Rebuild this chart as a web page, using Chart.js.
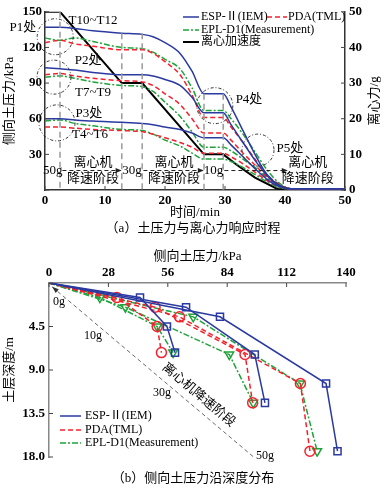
<!DOCTYPE html>
<html>
<head>
<meta charset="utf-8">
<script src="https://cdn.jsdelivr.net/npm/chart.js@4.4.0/dist/chart.umd.min.js"></script>
<style>
body{margin:0;background:#fff;width:386px;height:489px;position:relative;overflow:hidden;font-family:"Liberation Serif","Noto Sans CJK SC",serif;}
canvas{position:absolute;left:0;}
#c1{top:0;}
#c2{top:245px;}
.cap{position:absolute;left:0;width:386px;text-align:center;font-size:13px;line-height:16px;color:#000;}
</style>
</head>
<body>
<canvas id="c1" width="386" height="222" style="width:386px;height:222px"></canvas>
<div class="cap" style="top:220px">（a）土压力与离心力响应时程</div>
<canvas id="c2" width="386" height="225" style="width:386px;height:225px"></canvas>
<div class="cap" style="top:470px">（b）侧向土压力沿深度分布</div>
<script>
// ---- (a) time history ----
let timeMin = [0, 2.5, 5, 8, 12.8, 16.2, 18, 20, 22.5, 24.5, 26.5, 29.7, 31, 33, 35, 37, 39, 41, 45, 50];
let espT10 = [137, 137, 136, 134, 132, 131, 129, 124, 115, 100, 81, 81, 70, 50, 30, 13, 4, 1, 1, 1];
let espT7 = [103, 102, 101, 99, 97, 97, 96, 93, 88, 78, 65, 65, 55, 40, 25, 12, 4, 1, 1, 1];
let espT4 = [60, 60, 59, 58, 57, 56, 55, 53, 51, 48, 44, 44, 38, 28, 18, 9, 3, 1, 1, 1];
let pdaT10 = [124, 126, 123, 121, 118, 118, 115, 108, 97, 80, 61, 61, 53, 40, 26, 13, 5, 1, 1, 1];
let pdaT7 = [97, 98, 96, 94, 92, 91, 88, 81, 72, 60, 48, 48, 42, 31, 21, 11, 4, 1, 1, 1];
let pdaT4 = [53, 53, 52, 51, 50, 49, 47, 44, 40, 36, 31, 31, 28, 22, 15, 8, 3, 1, 1, 1];
let eplT10 = [128, 126, 128, 125, 120, 119, 116, 110, 102, 86, 67, 67, 60, 47, 32, 17, 6, 1, 1, 1];
let eplT7 = [95, 96, 94, 91, 88, 87, 83, 74, 62, 49, 36, 36, 33, 26, 19, 10, 4, 1, 1, 1];
let eplT4 = [58, 59, 56, 54, 51, 50, 47, 42, 37, 31, 26, 26, 24, 19, 13, 7, 2, 1, 1, 1];
let accTime = [0, 2.5, 12.8, 16.2, 26.5, 29.7, 32, 35, 38.5, 40, 50];
let accG = [50, 50, 30, 30, 10, 10, 7, 3.5, 0.5, 0, 0];

// ---- (b) depth profiles ----
let depth10g = [0, 1.5, 4.5, 7.2];
let depth30g = [0, 2.5, 7.4, 12.4];
let depth50g = [0, 3.5, 10.4, 17.4];
let esp10g = [0, 42.9, 55.6, 59.4];
let esp30g = [0, 64.6, 97, 101.8];
let esp50g = [0, 80.6, 130.6, 136];
let pda10g = [0, 32, 51, 53];
let pda30g = [0, 50, 92.4, 96];
let pda50g = [0, 61.5, 118.5, 123];
let epl10g = [0, 24, 51, 58.5];
let epl30g = [0, 36, 85, 96.3];
let epl50g = [0, 68, 118.3, 126.4];

const BLUE = "#2b3aa0";
const RED = "#f5222d";
const GREEN = "#1fa33a";
const FAMILY = '"Liberation Serif", "Noto Sans CJK SC", serif';
const numFont = { family: FAMILY, size: 13, weight: "bold" };
const cjkFont = { family: FAMILY, size: 13 };

function pts(xs, ys) {
    return xs.map(function (x, i) { return { x: x, y: ys[i] }; });
}

function drawText(ctx, text, x, y, font, align) {
    ctx.font = font;
    ctx.fillStyle = "#000";
    ctx.textAlign = align || "center";
    ctx.textBaseline = "middle";
    ctx.fillText(text, x, y);
}

function sample(ctx, x0, x1, y, color, dash, width) {
    ctx.save();
    ctx.strokeStyle = color;
    ctx.lineWidth = width || 1.5;
    ctx.setLineDash(dash);
    ctx.beginPath();
    ctx.moveTo(x0, y);
    ctx.lineTo(x1, y);
    ctx.stroke();
    ctx.restore();
}

// small ticks pointing into the plot
const ticksIn = {
    id: "ticksIn",
    afterDraw(chart) {
        let ctx = chart.ctx;
        let area = chart.chartArea;
        ctx.save();
        ctx.strokeStyle = "#444";
        ctx.lineWidth = 1;
        Object.values(chart.scales).forEach(function (s) {
            s.ticks.forEach(function (t) {
                let p = s.getPixelForValue(t.value);
                ctx.beginPath();
                if (s.position === "bottom") { ctx.moveTo(p, area.bottom); ctx.lineTo(p, area.bottom - 4); }
                if (s.position === "top") { ctx.moveTo(p, area.top); ctx.lineTo(p, area.top + 4); }
                if (s.position === "left") { ctx.moveTo(area.left, p); ctx.lineTo(area.left + 4, p); }
                if (s.position === "right") { ctx.moveTo(area.right, p); ctx.lineTo(area.right - 4, p); }
                ctx.stroke();
            });
        });
        ctx.restore();
    }
};

let stageLines = [[2.5, 150], [12.8, 132], [16.2, 132], [26.5, 81], [29.7, 81]];
let rings = [[1.7, 129, 18], [1.5, 95, 17], [2, 56.5, 18], [28.3, 71, 18], [35.5, 33.6, 16]];
let notes = [
    ["P1处", -3.7, 137], ["T10~T12", 8, 143], ["P2处", 7.2, 109], ["T7~T9", 8, 82],
    ["P3处", 7.3, 64], ["T4~T6", 7.5, 47], ["P4处", 34, 76], ["P5处", 40.8, 35],
    ["50g", 1.3, 16.4], ["30g", 14.5, 16.4], ["10g", 28.1, 16.4],
    ["离心机", 8, 23], ["降速阶段", 8, 10], ["离心机", 21.5, 23], ["降速阶段", 21.5, 10],
    ["离心机", 43.8, 23], ["降速阶段", 43.8, 10]
];
let arrows = [[2.9, 12.6], [16.4, 26.3], [29.9, 40.3]];

const annoA = {
    id: "annoA",
    afterDatasetsDraw(chart) {
        let ctx = chart.ctx;
        let x = chart.scales.x, y = chart.scales.y;
        ctx.save();
        ctx.strokeStyle = "#9a9a9a";
        ctx.lineWidth = 1.5;
        ctx.setLineDash([6, 4]);
        stageLines.forEach(function (s) {
            ctx.beginPath();
            ctx.moveTo(x.getPixelForValue(s[0]), y.getPixelForValue(s[1]));
            ctx.lineTo(x.getPixelForValue(s[0]), y.getPixelForValue(0));
            ctx.stroke();
        });
        ctx.strokeStyle = "#333";
        ctx.lineWidth = 1;
        ctx.setLineDash([3, 2, 1, 2]);
        rings.forEach(function (r) {
            ctx.beginPath();
            ctx.arc(x.getPixelForValue(r[0]), y.getPixelForValue(r[1]), r[2], 0, Math.PI * 2);
            ctx.stroke();
        });
        ctx.setLineDash([4, 3]);
        ctx.strokeStyle = "#222";
        arrows.forEach(function (a) {
            let yy = y.getPixelForValue(16.4);
            let x0 = x.getPixelForValue(a[0]), x1 = x.getPixelForValue(a[1]);
            ctx.beginPath();
            ctx.moveTo(x0, yy);
            ctx.lineTo(x1, yy);
            ctx.stroke();
            ctx.fillStyle = "#222";
            ctx.beginPath();
            ctx.moveTo(x1 + 1, yy);
            ctx.lineTo(x1 - 5, yy - 2.5);
            ctx.lineTo(x1 - 5, yy + 2.5);
            ctx.closePath();
            ctx.fill();
        });
        ctx.setLineDash([]);
        notes.forEach(function (n) {
            drawText(ctx, n[0], x.getPixelForValue(n[1]), y.getPixelForValue(n[2]), "13px " + FAMILY);
        });

        // legend
        sample(ctx, 183, 199, 17, BLUE, []);
        drawText(ctx, "ESP-Ⅱ(IEM)", 201, 17, "12px " + FAMILY, "left");
        sample(ctx, 267, 287, 17, RED, [5, 3]);
        drawText(ctx, "PDA(TML)", 288, 17, "12px " + FAMILY, "left");
        sample(ctx, 183, 199, 30, GREEN, [6, 2, 2, 2]);
        drawText(ctx, "EPL-D1(Measurement)", 201, 30, "12px " + FAMILY, "left");
        sample(ctx, 183, 199, 42, "#000", [], 2);
        drawText(ctx, "离心加速度", 201, 42, "12px " + FAMILY, "left");

        // right axis title, reading upwards
        ctx.translate(375, (chart.chartArea.top + chart.chartArea.bottom) / 2);
        ctx.rotate(-Math.PI / 2);
        drawText(ctx, "离心力/g", 0, 0, "13px " + FAMILY);
        ctx.restore();
    }
};

let lineBase = { pointRadius: 0, borderWidth: 1.5, cubicInterpolationMode: "monotone", fill: false };
let noGrid = { display: false, drawTicks: false };

new Chart(document.getElementById("c1"), {
    type: "line",
    data: {
        datasets: [
            Object.assign({ label: "ESP-Ⅱ(IEM)", data: pts(timeMin, espT10), borderColor: BLUE }, lineBase),
            Object.assign({ label: "ESP-Ⅱ(IEM)", data: pts(timeMin, espT7), borderColor: BLUE }, lineBase),
            Object.assign({ label: "ESP-Ⅱ(IEM)", data: pts(timeMin, espT4), borderColor: BLUE }, lineBase),
            Object.assign({ label: "PDA(TML)", data: pts(timeMin, pdaT10), borderColor: RED, borderDash: [5, 3] }, lineBase),
            Object.assign({ label: "PDA(TML)", data: pts(timeMin, pdaT7), borderColor: RED, borderDash: [5, 3] }, lineBase),
            Object.assign({ label: "PDA(TML)", data: pts(timeMin, pdaT4), borderColor: RED, borderDash: [5, 3] }, lineBase),
            Object.assign({ label: "EPL-D1(Measurement)", data: pts(timeMin, eplT10), borderColor: GREEN, borderDash: [6, 2, 2, 2] }, lineBase),
            Object.assign({ label: "EPL-D1(Measurement)", data: pts(timeMin, eplT7), borderColor: GREEN, borderDash: [6, 2, 2, 2] }, lineBase),
            Object.assign({ label: "EPL-D1(Measurement)", data: pts(timeMin, eplT4), borderColor: GREEN, borderDash: [6, 2, 2, 2] }, lineBase),
            { label: "离心加速度", data: pts(accTime, accG), yAxisID: "y2", borderColor: "#000", borderWidth: 2, pointRadius: 0, tension: 0 }
        ]
    },
    options: {
        responsive: false,
        animation: false,
        layout: { padding: { top: 7, left: 0, right: 0, bottom: 0 } },
        plugins: { legend: { display: false }, tooltip: { enabled: false } },
        scales: {
            x: {
                type: "linear", min: 0, max: 50,
                ticks: { stepSize: 10, font: numFont, color: "#000", padding: 3, maxRotation: 0 },
                grid: noGrid,
                border: { color: "#333", width: 1.5 },
                title: { display: true, text: "时间/min", font: cjkFont, color: "#000", padding: { top: 0, bottom: 2 } },
                afterFit: function (s) { s.height = 32; }
            },
            y: {
                min: 0, max: 150,
                ticks: { stepSize: 30, font: numFont, color: "#000", padding: 3, callback: function (v) { return v === 0 ? "" : v; } },
                grid: noGrid,
                border: { color: "#333", width: 1.5 },
                title: { display: true, text: "侧向土压力/kPa", font: cjkFont, color: "#000", padding: { top: 2, bottom: 0 } },
                afterFit: function (s) { s.width = 45; }
            },
            y2: {
                position: "right", min: 0, max: 50,
                ticks: { stepSize: 10, font: numFont, color: "#000", padding: 4 },
                grid: noGrid,
                border: { color: "#333", width: 1.5 },
                afterFit: function (s) { s.width = 41; }
            }
        }
    },
    plugins: [ticksIn, annoA]
});

// ---- (b) ----
let gLabels = [["0g", 4.7, 2.0], ["10g", 20.7, 5.5], ["30g", 53.3, 11.4], ["50g", 101.8, 17.9]];

const annoB = {
    id: "annoB",
    afterDatasetsDraw(chart) {
        let ctx = chart.ctx;
        let x = chart.scales.x, y = chart.scales.y;
        let ax = x.getPixelForValue(1.5), ay = y.getPixelForValue(0.4);
        let bx = x.getPixelForValue(97), by = y.getPixelForValue(18.1);
        let ang = Math.atan2(by - ay, bx - ax);
        ctx.save();
        ctx.strokeStyle = "#444";
        ctx.lineWidth = 0.8;
        ctx.setLineDash([4, 3]);
        ctx.beginPath();
        ctx.moveTo(ax, ay);
        ctx.lineTo(bx, by);
        ctx.stroke();
        ctx.setLineDash([]);
        ctx.fillStyle = "#333";
        ctx.beginPath();
        ctx.moveTo(ax, ay);
        ctx.lineTo(ax + 7 * Math.cos(ang - 0.35), ay + 7 * Math.sin(ang - 0.35));
        ctx.lineTo(ax + 7 * Math.cos(ang + 0.35), ay + 7 * Math.sin(ang + 0.35));
        ctx.closePath();
        ctx.fill();
        gLabels.forEach(function (g) {
            drawText(ctx, g[0], x.getPixelForValue(g[1]), y.getPixelForValue(g[2]), "12px " + FAMILY);
        });
        ctx.save();
        ctx.translate(x.getPixelForValue(70.5), y.getPixelForValue(11.6));
        ctx.rotate(ang);
        drawText(ctx, "离心机降速阶段", 0, 0, "13px " + FAMILY);
        ctx.restore();

        sample(ctx, 60, 81, 171, BLUE, []);
        drawText(ctx, "ESP-Ⅱ(IEM)", 85, 171, "12px " + FAMILY, "left");
        sample(ctx, 60, 81, 185, RED, [5, 3]);
        drawText(ctx, "PDA(TML)", 85, 185, "12px " + FAMILY, "left");
        sample(ctx, 60, 81, 198, GREEN, [6, 2, 2, 2]);
        drawText(ctx, "EPL-D1(Measurement)", 85, 198, "12px " + FAMILY, "left");
        ctx.restore();
    }
};

function profile(label, xs, ds, color, dash, style, rot) {
    return {
        label: label,
        data: pts(xs, ds),
        borderColor: color,
        borderDash: dash,
        borderWidth: 1.5,
        tension: 0,
        pointRadius: [0, 5, 5, 5],
        pointStyle: style,
        rotation: rot || 0,
        pointBorderColor: color,
        pointBackgroundColor: "rgba(255,255,255,0)",
        pointBorderWidth: 1.5
    };
}

new Chart(document.getElementById("c2"), {
    type: "line",
    data: {
        datasets: [
            profile("ESP-Ⅱ(IEM)", esp10g, depth10g, BLUE, [], "rect"),
            profile("ESP-Ⅱ(IEM)", esp30g, depth30g, BLUE, [], "rect"),
            profile("ESP-Ⅱ(IEM)", esp50g, depth50g, BLUE, [], "rect"),
            profile("PDA(TML)", pda10g, depth10g, RED, [5, 3], "circle"),
            profile("PDA(TML)", pda30g, depth30g, RED, [5, 3], "circle"),
            profile("PDA(TML)", pda50g, depth50g, RED, [5, 3], "circle"),
            profile("EPL-D1(Measurement)", epl10g, depth10g, GREEN, [6, 2, 2, 2], "triangle", 180),
            profile("EPL-D1(Measurement)", epl30g, depth30g, GREEN, [6, 2, 2, 2], "triangle", 180),
            profile("EPL-D1(Measurement)", epl50g, depth50g, GREEN, [6, 2, 2, 2], "triangle", 180)
        ]
    },
    options: {
        responsive: false,
        animation: false,
        layout: { padding: { top: 0, left: 0, right: 40, bottom: 13 } },
        plugins: { legend: { display: false }, tooltip: { enabled: false } },
        scales: {
            x: {
                type: "linear", position: "top", min: 0, max: 140,
                ticks: { stepSize: 28, font: numFont, color: "#000", padding: 3, maxRotation: 0 },
                grid: noGrid,
                border: { color: "#888", width: 1.5 },
                title: { display: true, text: "侧向土压力/kPa", font: cjkFont, color: "#000", padding: { top: 4, bottom: 0 } },
                afterFit: function (s) { s.height = 38; }
            },
            y: {
                type: "linear", reverse: true, min: 0, max: 18,
                ticks: { stepSize: 4.5, font: numFont, color: "#000", padding: 4, callback: function (v) { return v === 0 ? "" : v.toFixed(1); } },
                grid: noGrid,
                border: { color: "#888", width: 1.5 },
                title: { display: true, text: "土层深度/m", font: cjkFont, color: "#000", padding: { top: 2, bottom: 0 } },
                afterFit: function (s) { s.width = 49; }
            }
        }
    },
    plugins: [ticksIn, annoB]
});
</script>
</body>
</html>
